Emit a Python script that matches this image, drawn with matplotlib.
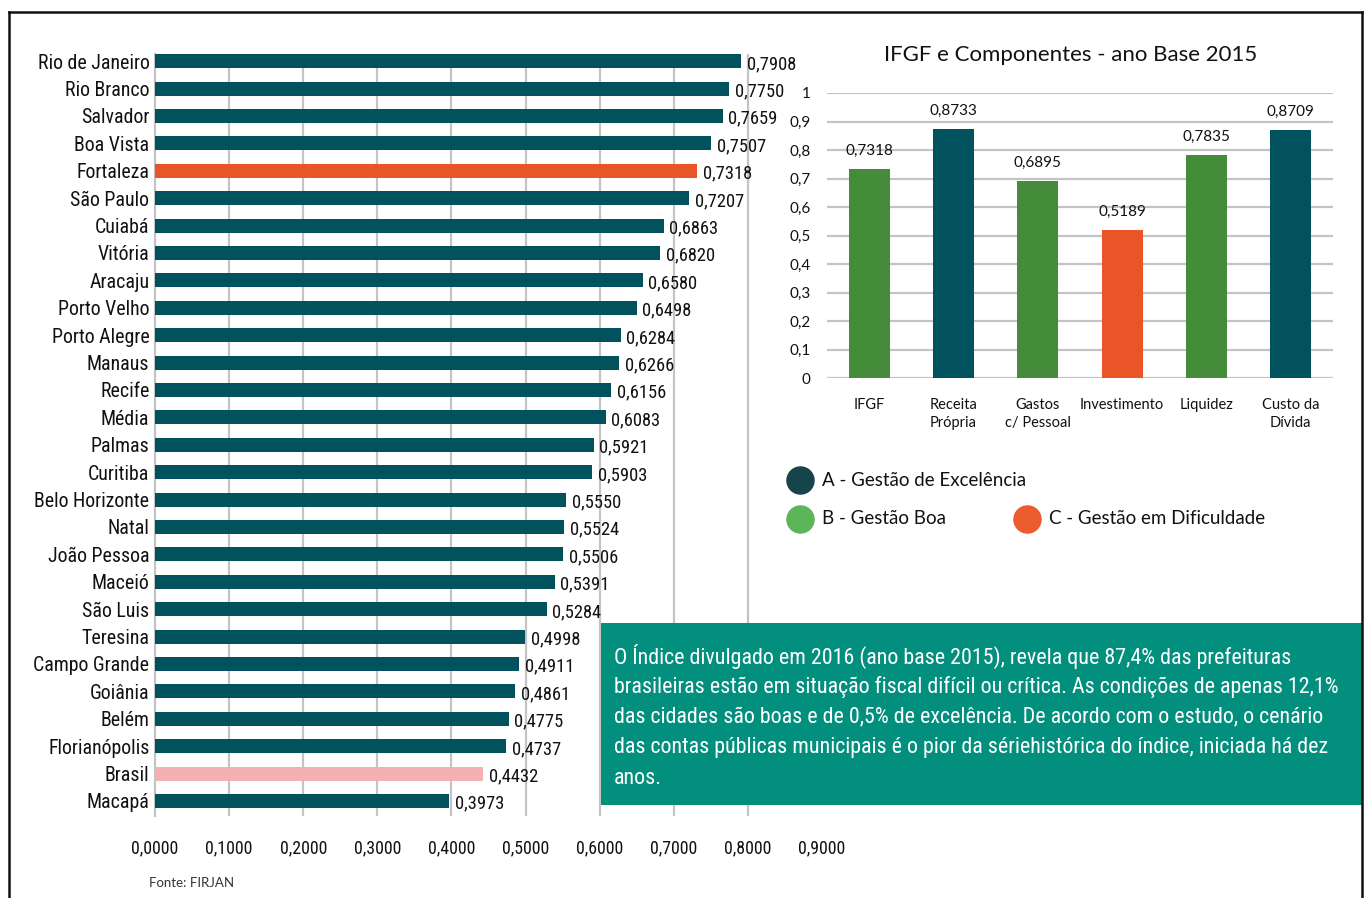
import matplotlib
matplotlib.use("Agg")
import matplotlib.pyplot as plt
from matplotlib import font_manager
from matplotlib.lines import Line2D
from matplotlib.patches import Rectangle

# ---------------- data ----------------
cities = ["Rio de Janeiro", "Rio Branco", "Salvador", "Boa Vista", "Fortaleza",
          "São Paulo", "Cuiabá", "Vitória", "Aracaju", "Porto Velho",
          "Porto Alegre", "Manaus", "Recife", "Média", "Palmas", "Curitiba",
          "Belo Horizonte", "Natal", "João Pessoa", "Maceió", "São Luis",
          "Teresina", "Campo Grande", "Goiânia", "Belém", "Florianópolis",
          "Brasil", "Macapá"]
city_values = [0.7908, 0.7750, 0.7659, 0.7507, 0.7318, 0.7207, 0.6863, 0.6820,
               0.6580, 0.6498, 0.6284, 0.6266, 0.6156, 0.6083, 0.5921, 0.5903,
               0.5550, 0.5524, 0.5506, 0.5391, 0.5284, 0.4998, 0.4911, 0.4861,
               0.4775, 0.4737, 0.4432, 0.3973]
x_ticks = [0.0, 0.1, 0.2, 0.3, 0.4, 0.5, 0.6, 0.7, 0.8, 0.9]

components = ["IFGF", "Receita\nPrópria", "Gastos\nc/ Pessoal", "Investimento",
              "Liquidez", "Custo da\nDívida"]
component_values = [0.7318, 0.8733, 0.6895, 0.5189, 0.7835, 0.8709]
component_class = ["B", "A", "B", "C", "B", "A"]
y_ticks = [0, 0.1, 0.2, 0.3, 0.4, 0.5, 0.6, 0.7, 0.8, 0.9, 1]
y_tick_labels = ["0", "0,1", "0,2", "0,3", "0,4", "0,5", "0,6", "0,7", "0,8", "0,9", "1"]

legend_labels = ["A - Gestão de Excelência", "B - Gestão Boa", "C - Gestão em Dificuldade"]

title = "IFGF e Componentes - ano Base 2015"
note_lines = [
    "O Índice divulgado em 2016 (ano base 2015), revela que 87,4% das prefeituras",
    "brasileiras estão em situação fiscal difícil ou crítica. As condições de apenas 12,1%",
    "das cidades são boas e de 0,5% de excelência. De acordo com o estudo, o cenário",
    "das contas públicas municipais é o pior da sériehistórica do índice, iniciada há dez",
    "anos.",
]
source = "Fonte: FIRJAN"

# ---------------- styles ----------------
TEAL = "#02525E"
ORANGE = "#E95526"
PINK = "#F4B1B3"
GREEN = "#448C3A"
GRID = "#C4C4C4"
BOX = "#028F7E"
class_colors = {"A": TEAL, "B": GREEN, "C": ORANGE}
legend_colors = ["#17434A", "#5DB55A", "#EB5B2B"]

names = {f.name for f in font_manager.fontManager.ttflist}
NARROW = "DejaVu Sans"
for cand in ["Roboto Condensed", "Liberation Sans Narrow", "Arial Narrow", "Roboto"]:
    if cand in names:
        NARROW = cand
        break
# sizes tuned for Roboto Condensed; scaled for other fallbacks
NS = {"Roboto Condensed": 1.0, "Liberation Sans Narrow": 1.02, "Arial Narrow": 1.02,
      "Roboto": 0.9}.get(NARROW, 0.8)
REG = "Lato" if "Lato" in names else "DejaVu Sans"

W, H = 1365, 898
fig = plt.figure(figsize=(W / 100, H / 100), dpi=100)
fig.patch.set_facecolor("white")

def fx(px):
    return px / W

def fy(py):
    return 1 - py / H

# ---------------- left chart ----------------
axL = fig.add_axes([fx(155), fy(816), fx(822) - fx(155), fy(54) - fy(816)])
ypos = list(range(len(cities)))
colors = []
for c in cities:
    if c == "Fortaleza":
        colors.append(ORANGE)
    elif c == "Brasil":
        colors.append(PINK)
    else:
        colors.append(TEAL)
axL.barh(ypos, city_values, height=0.51, color=colors, zorder=3)
axL.set_ylim(27.55, -0.26)
axL.set_xlim(0, 0.9)
axL.set_yticks(ypos)
axL.set_yticklabels(cities, fontfamily=NARROW, fontsize=14.3 * NS, color="#111111")
axL.set_xticks(x_ticks)
axL.set_xticklabels([f"{t:.4f}".replace(".", ",") for t in x_ticks],
                    fontfamily=NARROW, fontsize=12.9 * NS, color="#111111")
axL.tick_params(axis="y", length=0, pad=4)
axL.tick_params(axis="x", length=0, pad=17)
axL.grid(axis="x", color=GRID, linewidth=1.6, zorder=0)
gl = axL.get_xgridlines()
gl[-1].set_visible(False)
gl[0].set_visible(False)
for s in ["top", "right", "bottom"]:
    axL.spines[s].set_visible(False)
axL.spines["left"].set_color(GRID)
axL.spines["left"].set_linewidth(1.6)
for y, v in zip(ypos, city_values):
    axL.annotate(f"{v:.4f}".replace(".", ","), xy=(v, y), xytext=(4, -2),
                 textcoords="offset points", va="center", ha="left",
                 fontfamily=NARROW, fontsize=13.3 * NS, color="#111111", zorder=4)

# ---------------- right chart ----------------
axR = fig.add_axes([fx(827), fy(378), fx(1333) - fx(827), fy(93) - fy(378)])
xpos = list(range(len(components)))
axR.bar(xpos, component_values, width=0.49,
        color=[class_colors[c] for c in component_class], zorder=3)
axR.set_xlim(-0.5, len(components) - 0.5)
axR.set_ylim(0, 1)
axR.set_yticks(y_ticks)
axR.set_yticklabels(y_tick_labels, fontfamily=REG, fontsize=11, color="#111111")
axR.set_xticks(xpos)
axR.set_xticklabels(components, fontfamily=REG, fontsize=10.5, color="#111111",
                    linespacing=1.35)
axR.tick_params(axis="y", length=0, pad=12)
axR.tick_params(axis="x", length=0, pad=14.5)
axR.grid(axis="y", color=GRID, linewidth=1.6, zorder=0)
for s in ["top", "right", "left", "bottom"]:
    axR.spines[s].set_visible(False)
for x, v in zip(xpos, component_values):
    axR.annotate(f"{v:.4f}".replace(".", ","), xy=(x, v), xytext=(0, 8),
                 textcoords="offset points", ha="center", va="bottom",
                 fontfamily=REG, fontsize=11, color="#111111")
fig.text(fx(1071), fy(55), title, ha="center", va="center",
         fontfamily=REG, fontsize=16, color="#111111")

# ---------------- legend ----------------
legend_pos = [(800, 480), (800, 519), (1027, 519)]
for (px, py), lab, col in zip(legend_pos, legend_labels, legend_colors):
    fig.add_artist(Line2D([fx(px)], [fy(py)], marker="o", markersize=19.5,
                          color=col, linestyle="none", transform=fig.transFigure))
    fig.text(fx(px + 22), fy(py), lab, ha="left", va="center",
             fontfamily=REG, fontsize=13.5, color="#111111")

# ---------------- text box ----------------
fig.add_artist(Rectangle((fx(601), fy(805)), fx(1362) - fx(601), fy(623) - fy(805),
                         transform=fig.transFigure, facecolor=BOX, edgecolor="none",
                         zorder=5))
for i, line in enumerate(note_lines):
    fig.text(fx(614), fy(656 + i * 30.5), line, ha="left", va="center",
             fontfamily=NARROW, fontsize=15.8 * NS, color="white", zorder=6)

# ---------------- source & border ----------------
fig.text(fx(149), fy(883), source, ha="left", va="center",
         fontfamily=REG, fontsize=9.5, color="#333333")
for xs, ys in [([9, 1362], [12, 12]), ([9, 9], [12, 898]), ([1362, 1362], [12, 898])]:
    fig.add_artist(Line2D([fx(x) for x in xs], [fy(y) for y in ys], color="#111111",
                          linewidth=1.8, transform=fig.transFigure, zorder=7))

fig.savefig("out.png", dpi=100)
